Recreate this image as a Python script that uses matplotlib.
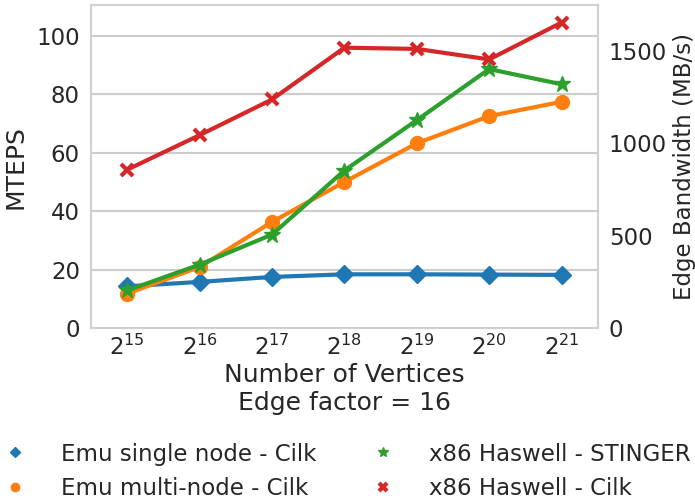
import matplotlib
matplotlib.use("Agg")
import matplotlib.pyplot as plt
import seaborn as sns

# x positions are log2 of the number of vertices
scale = [15, 16, 17, 18, 19, 20, 21]
tick_labels = ["$2^{%d}$" % s for s in scale]

# MTEPS per configuration
emu_single = [14.3, 15.8, 17.5, 18.4, 18.4, 18.3, 18.2]
emu_multi = [11.8, 20.9, 36.3, 50.0, 63.2, 72.5, 77.4]
haswell_stinger = [12.9, 21.7, 32.0, 53.9, 71.1, 88.6, 83.4]
haswell_cilk = [54.2, 66.0, 78.2, 95.9, 95.5, 91.9, 104.5]

labels = ["Emu single node - Cilk", "Emu multi-node - Cilk",
          "x86 Haswell - STINGER", "x86 Haswell - Cilk"]

sns.set_theme(style="whitegrid", context="talk")
plt.rcParams['font.family'] = ['DejaVu Sans']

fig = plt.figure(figsize=(6.95, 5.04), dpi=100)
ax = fig.add_axes([0.131, 0.349, 0.729, 0.641])

pal = sns.color_palette("tab10")
h1, = ax.plot(scale, emu_single, marker="D", color=pal[0], lw=3, ms=9)
h2, = ax.plot(scale, emu_multi, marker="o", color=pal[1], lw=3, ms=10)
h3, = ax.plot(scale, haswell_stinger, marker="*", color=pal[2], lw=3, ms=12)
h4, = ax.plot(scale, haswell_cilk, marker="x", color=pal[3], lw=3, ms=9, mew=3)

ax.set_xlim(14.5, 21.5)
ax.set_ylim(0, 110.5)
ax.set_xticks(scale)
ax.set_xticklabels(tick_labels)
ax.set_yticks([0, 20, 40, 60, 80, 100])
ax.set_ylabel("MTEPS", labelpad=6)
ax.set_xlabel("Number of Vertices\nEdge factor = 16", linespacing=1.2, labelpad=2)
ax.xaxis.grid(False)
ax.tick_params(axis="both", length=0, pad=8)
ax.tick_params(axis="x", pad=5)

# second axis for the edge bandwidth
ax2 = ax.twinx()
ax2.set_ylim(0, 1747)
ax2.set_yticks([0, 500, 1000, 1500])
ax2.grid(False)
ax2.tick_params(axis="y", length=0, pad=8)
ax2.set_ylabel("Edge Bandwidth (MB/s)", fontsize=16.5, labelpad=4)
for a in (ax, ax2):
    for s in a.spines.values():
        s.set_color("0.82")
        s.set_linewidth(1.5)

fig.legend([h1, h2, h3, h4], labels, ncol=2, loc="center",
           bbox_to_anchor=(0.498, 0.065), frameon=False,
           markerscale=0.6, handlelength=1.2, handletextpad=1.4,
           columnspacing=2.3, labelspacing=0.5)
for l in fig.legends[0].get_lines():
    l.set_linestyle("")

fig.savefig("out.png", dpi=100)
